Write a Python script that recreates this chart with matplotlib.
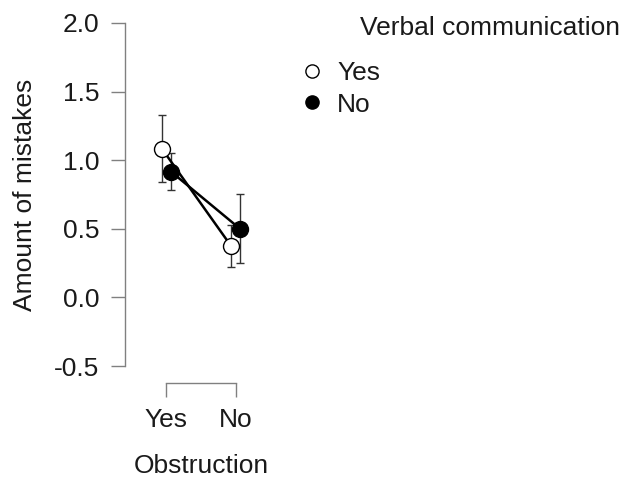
import matplotlib.pyplot as plt
import numpy as np

plt.rcParams['font.family'] = ['Liberation Sans', 'DejaVu Sans']

# data
obstruction = ['Yes', 'No']
groups = ['Yes', 'No']  # verbal communication
means = {'Yes': [1.083, 0.375], 'No': [0.917, 0.500]}
lower = {'Yes': [0.84, 0.22], 'No': [0.78, 0.25]}
upper = {'Yes': [1.33, 0.53], 'No': [1.05, 0.75]}

FS = 19
fig = plt.figure(figsize=(6.34, 4.79), dpi=100)
W, H = 634, 479
ax = fig.add_axes([125 / W, 113 / H, 152 / W, 343 / H])

x = np.arange(1, len(obstruction) + 1)
dodge = {'Yes': -0.065, 'No': 0.065}
face = {'Yes': 'white', 'No': 'black'}

handles = []
for g in groups:
    xs = x + dodge[g]
    m = np.array(means[g])
    err = [m - np.array(lower[g]), np.array(upper[g]) - m]
    ax.errorbar(xs, m, yerr=err, fmt='none', ecolor='#333333',
                elinewidth=1, capsize=3, capthick=1, clip_on=False, zorder=2)
    ax.plot(xs, m, color='black', lw=1.8, clip_on=False, zorder=3)
    ax.plot(xs, m, 'o', ms=11.5, mfc=face[g], mec='black', mew=1,
            clip_on=False, zorder=4)
    h, = ax.plot([], [], 'o', ms=9.5, mfc=face[g], mec='black', mew=1)
    handles.append(h)

ax.set_xlim(0.4, 2.6)
ax.set_ylim(-0.5, 2.0)
ax.set_yticks([-0.5, 0.0, 0.5, 1.0, 1.5, 2.0])
ax.set_yticklabels(['-0.5', '0.0', '0.5', '1.0', '1.5', '2.0'])
ax.set_xticks(x)
ax.set_xticklabels(obstruction)

for s in ['top', 'right']:
    ax.spines[s].set_visible(False)
ax.spines['left'].set_bounds(-0.5, 2.0)
ax.spines['bottom'].set_bounds(1, 2)
ax.spines['bottom'].set_position(('outward', 12.2))
for s in ['left', 'bottom']:
    ax.spines[s].set_color('#808080')
    ax.spines[s].set_linewidth(1)

ax.tick_params(axis='both', colors='#808080', labelcolor='#1a1a1a',
               labelsize=FS, length=10, width=1, direction='out')
ax.tick_params(axis='y', pad=8.5)
ax.tick_params(axis='x', pad=8)

ax.set_ylabel('Amount of mistakes', fontsize=FS, color='#1a1a1a', labelpad=12)
ax.set_xlabel('Obstruction', fontsize=FS, color='#1a1a1a', labelpad=16)

fig.text(360 / W, 1 - 28 / H, 'Verbal communication', fontsize=FS,
         color='#1a1a1a', ha='left', va='center')
fig.legend(handles, groups, loc='upper left',
           bbox_to_anchor=(299 / W, 1 - 61 / H), frameon=False,
           fontsize=FS, handlelength=1.0, handletextpad=0.44,
           labelspacing=0.29, borderpad=0, borderaxespad=0,
           labelcolor='#1a1a1a')

fig.savefig('out.png', dpi=100)
